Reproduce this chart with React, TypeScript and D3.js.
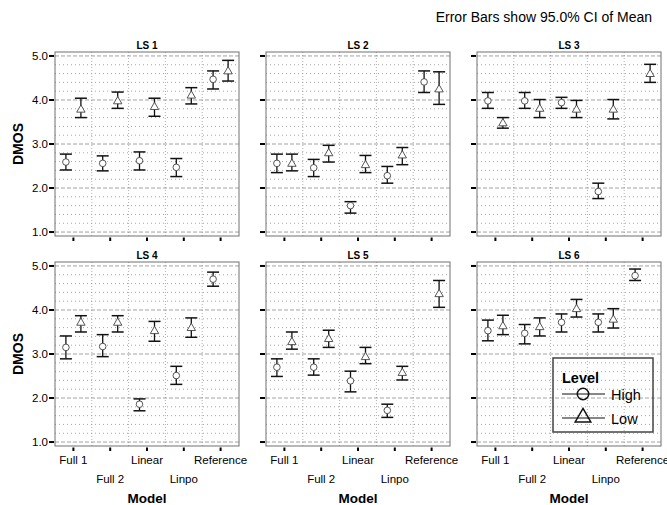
import React from "react";
import * as d3 from "d3";

const categories = ["Full 1", "Full 2", "Linear", "Linpo", "Reference"];
const panels = ["LS 1", "LS 2", "LS 3", "LS 4", "LS 5", "LS 6"];
const levels = ["High", "Low"];
const yTicks = [1, 2, 3, 4, 5];

// rows = panels, columns = categories (null = no data)
const highMean = [
  [2.59, 2.56, 2.62, 2.47, 4.47],
  [2.56, 2.46, 1.6, 2.28, 4.41],
  [3.98, 3.98, 3.94, 1.92, null],
  [3.15, 3.17, 1.86, 2.51, 4.7],
  [2.7, 2.7, 2.39, 1.72, null],
  [3.53, 3.47, 3.72, 3.72, 4.78],
];
const highLower = [
  [2.41, 2.39, 2.41, 2.26, 4.25],
  [2.35, 2.26, 1.43, 2.11, 4.17],
  [3.81, 3.81, 3.81, 1.76, null],
  [2.89, 2.94, 1.71, 2.31, 4.54],
  [2.49, 2.52, 2.14, 1.56, null],
  [3.3, 3.23, 3.5, 3.5, 4.67],
];
const highUpper = [
  [2.77, 2.73, 2.82, 2.67, 4.66],
  [2.77, 2.65, 1.69, 2.49, 4.66],
  [4.17, 4.17, 4.06, 2.11, null],
  [3.41, 3.44, 1.98, 2.72, 4.86],
  [2.89, 2.89, 2.61, 1.86, null],
  [3.77, 3.67, 3.91, 3.91, 4.93],
];
const lowMean = [
  [3.79, 3.98, 3.85, 4.11, 4.66],
  [2.56, 2.8, 2.53, 2.75, 4.25],
  [3.48, 3.81, 3.79, 3.79, 4.6],
  [3.72, 3.72, 3.53, 3.6, null],
  [3.28, 3.35, 2.94, 2.58, 4.37],
  [3.64, 3.62, 4.03, 3.79, null],
];
const lowLower = [
  [3.6, 3.81, 3.63, 3.91, 4.43],
  [2.39, 2.59, 2.35, 2.53, 3.9],
  [3.36, 3.6, 3.6, 3.57, 4.4],
  [3.5, 3.5, 3.29, 3.38, null],
  [3.11, 3.15, 2.78, 2.41, 4.06],
  [3.44, 3.41, 3.84, 3.59, null],
];
const lowUpper = [
  [4.04, 4.18, 4.04, 4.28, 4.9],
  [2.77, 2.97, 2.74, 2.92, 4.64],
  [3.6, 4.01, 3.99, 4.01, 4.81],
  [3.87, 3.87, 3.74, 3.82, null],
  [3.5, 3.54, 3.15, 2.72, 4.67],
  [3.88, 3.82, 4.24, 4.03, null],
];

const W = 667;
const H = 505;
const colLeft = [55, 266, 477];
const rowTop = [52, 262];
const PW = 184;
const PH = 184;
const FONT = "Liberation Sans, Arial, Helvetica, sans-serif";

const x = d3.scaleBand<string>().domain(categories).range([0, PW]).padding(0);
const y = d3.scaleLinear().domain([0.91, 5.09]).range([PH, 0]);
const offset = d3.scaleOrdinal<string, number>().domain(levels).range([-7.5, 7.5]);
const minor = d3.range(1, 5.001, 0.2).filter((v) => Math.abs(v - Math.round(v)) > 1e-6);

const triPath = (cx: number, cy: number, s: number) =>
  `M${cx},${cy - s * 0.62}L${cx + s * 0.6},${cy + s * 0.42}L${cx - s * 0.6},${cy + s * 0.42}Z`;

function Panel({ idx }: { idx: number }) {
  const col = idx % 3;
  const row = Math.floor(idx / 3);
  const tx = colLeft[col];
  const ty = rowTop[row];
  const bw = x.bandwidth();
  const series = [
    { level: "High", mean: highMean[idx], lo: highLower[idx], hi: highUpper[idx] },
    { level: "Low", mean: lowMean[idx], lo: lowLower[idx], hi: lowUpper[idx] },
  ];
  return (
    <g transform={`translate(${tx},${ty})`}>
      <rect x={0} y={0} width={PW} height={PH} fill="#fff" />
      {minor.map((v) => (
        <line key={"m" + v} x1={0} x2={PW} y1={y(v)} y2={y(v)} stroke="#8f8f8f" strokeWidth={0.8} strokeDasharray="1,3" />
      ))}
      {categories.slice(1).map((c) => (
        <line key={"v" + c} x1={x(c)!} x2={x(c)!} y1={0} y2={PH} stroke="#9a9a9a" strokeWidth={0.8} strokeDasharray="1,2" />
      ))}
      {yTicks.map((v) => (
        <line key={"g" + v} x1={0} x2={PW} y1={y(v)} y2={y(v)} stroke="#8a8a8a" strokeWidth={0.8} strokeDasharray="4,2" />
      ))}
      <rect x={0} y={0} width={PW} height={PH} fill="none" stroke="#707070" strokeWidth={1} />
      <text x={PW / 2} y={-3.5} textAnchor="middle" fontFamily={FONT} fontSize={10} fontWeight="bold">
        {panels[idx]}
      </text>
      {yTicks.map((v) => (
        <line key={"yt" + v} x1={-6} x2={-1} y1={y(v)} y2={y(v)} stroke="#000" strokeWidth={2} />
      ))}
      {col === 0 &&
        yTicks.map((v) => (
          <text key={"yl" + v} x={-7} y={y(v) + 4} textAnchor="end" fontFamily={FONT} fontSize={11.5}>
            {d3.format(".1f")(v)}
          </text>
        ))}
      {categories.map((c) => (
        <line key={"xt" + c} x1={x(c)! + bw / 2} x2={x(c)! + bw / 2} y1={PH + 1.5} y2={PH + 5} stroke="#000" strokeWidth={2} />
      ))}
      {row === 1 &&
        categories.map((c, i) => (
          <text key={"xl" + c} x={x(c)! + bw / 2} y={PH + (i % 2 === 0 ? 17.5 : 36.5)} textAnchor="middle" fontFamily={FONT} fontSize={11.5}>
            {c}
          </text>
        ))}
      {series.map((s) =>
        categories.map((c, i) => {
          const m = s.mean[i];
          const lo = s.lo[i];
          const hi = s.hi[i];
          if (m == null || lo == null || hi == null) return null;
          const cx = x(c)! + bw / 2 + offset(s.level);
          return (
            <g key={s.level + c}>
              <line x1={cx} x2={cx} y1={y(lo)} y2={y(hi)} stroke="#111" strokeWidth={1.3} />
              <line x1={cx - 6} x2={cx + 6} y1={y(lo)} y2={y(lo)} stroke="#111" strokeWidth={1.5} />
              <line x1={cx - 6} x2={cx + 6} y1={y(hi)} y2={y(hi)} stroke="#111" strokeWidth={1.5} />
              {s.level === "High" ? (
                <circle cx={cx} cy={y(m)} r={3.3} fill="#fff" stroke="#444" strokeWidth={0.9} />
              ) : (
                <path d={triPath(cx, y(m), 7)} fill="#fff" stroke="#444" strokeWidth={0.9} />
              )}
            </g>
          );
        })
      )}
    </g>
  );
}

export default function App() {
  const lx = 553;
  const ly = 358;
  return (
    <svg width={W} height={H} style={{ position: "absolute", left: 0, top: 0, background: "#fff" }}>
      <rect width={W} height={H} fill="#fff" />
      <text x={652} y={22} textAnchor="end" fontFamily={FONT} fontSize={14}>
        Error Bars show 95.0% CI of Mean
      </text>
      {panels.map((p, i) => (
        <Panel key={p} idx={i} />
      ))}
      {rowTop.map((t) => (
        <text key={"dm" + t} transform={`translate(23,${t + PH / 2}) rotate(-90)`} textAnchor="middle" fontFamily={FONT} fontSize={14} fontWeight="bold">
          DMOS
        </text>
      ))}
      {colLeft.map((l) => (
        <text key={"md" + l} x={l + PW / 2} y={503} textAnchor="middle" fontFamily={FONT} fontSize={13.5} fontWeight="bold">
          Model
        </text>
      ))}
      <g>
        <rect x={lx} y={ly} width={100} height={74} fill="none" stroke="#444" strokeWidth={1.5} />
        <text x={lx + 9} y={ly + 25} fontFamily={FONT} fontSize={14.5} fontWeight="bold">
          Level
        </text>
        <line x1={lx + 9} x2={lx + 52} y1={ly + 36} y2={ly + 36} stroke="#111" strokeWidth={1.2} />
        <circle cx={lx + 30} cy={ly + 36} r={5.7} fill="none" stroke="#111" strokeWidth={1.5} />
        <text x={lx + 58} y={ly + 41.5} fontFamily={FONT} fontSize={14.5}>
          {levels[0]}
        </text>
        <line x1={lx + 9} x2={lx + 52} y1={ly + 60} y2={ly + 60} stroke="#111" strokeWidth={1.2} />
        <path d={triPath(lx + 30, ly + 58.5, 13)} fill="none" stroke="#111" strokeWidth={1.5} />
        <text x={lx + 58} y={ly + 65.5} fontFamily={FONT} fontSize={14.5}>
          {levels[1]}
        </text>
      </g>
    </svg>
  );
}
